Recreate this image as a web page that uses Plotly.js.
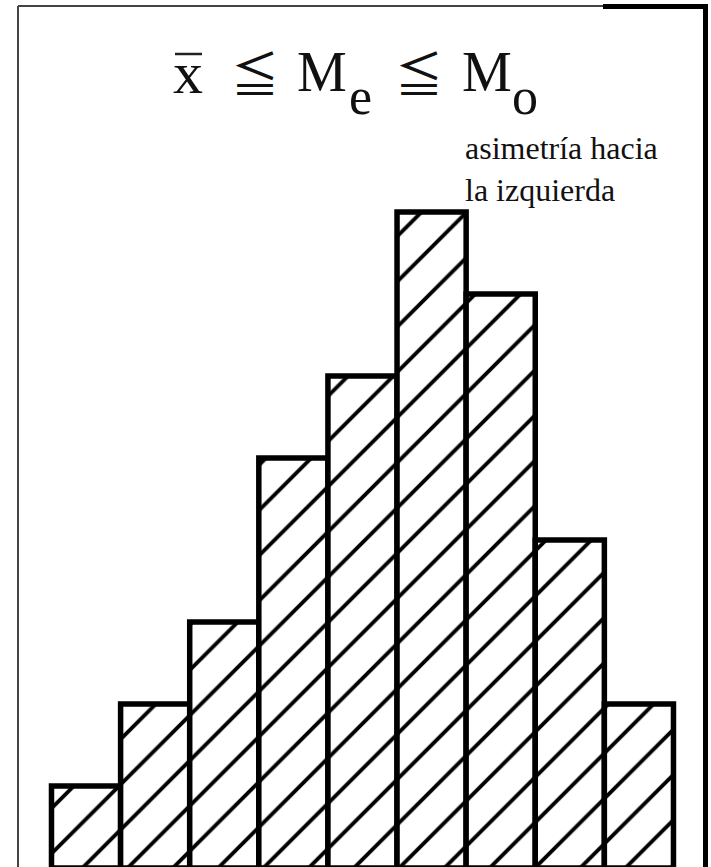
<!DOCTYPE html>
<html>
<head>
<meta charset="utf-8">
<script src="https://cdn.plot.ly/plotly-3.0.1.min.js"></script>
<style>
  html, body { margin: 0; padding: 0; background: #ffffff; }
  #chart { width: 711px; height: 867px; }
</style>
</head>
<body>
<div id="chart"></div>
<script>
// Class index (nine adjacent classes) and their frequencies
const classes = [0, 1, 2, 3, 4, 5, 6, 7, 8];
const frequencies = [1, 2, 3, 5, 6, 8, 7, 4, 2];
const noteLines = ["asimetría hacia", "la izquierda"];

const W = 711, H = 867;
const px = p => p / W;            // pixel -> paper x (plot area spans the page)
const py = p => (H - p) / H;      // pixel -> paper y

const serif = "Liberation Serif, Times New Roman, serif";
const cjk = "Noto Sans CJK JP, Noto Sans CJK SC, DejaVu Sans, sans-serif";

const trace = {
  type: "bar",
  x: classes,
  y: frequencies,
  width: 1,
  marker: {
    color: "#ffffff",
    line: { color: "#000000", width: 5.5 },
    pattern: { shape: "/", fgcolor: "#000000", bgcolor: "#ffffff", size: 32, solidity: 0.12 }
  },
  hoverinfo: "skip",
  showlegend: false
};

function glyph(text, cx, cy, size, family) {
  return {
    xref: "paper", yref: "paper", x: px(cx), y: py(cy),
    xanchor: "center", yanchor: "middle",
    text: text, showarrow: false,
    font: { family: family || serif, size: size, color: "#111111" }
  };
}

const layout = {
  width: W, height: H, autosize: false,
  margin: { l: 0, r: 0, t: 0, b: 0, pad: 0 },
  paper_bgcolor: "#ffffff", plot_bgcolor: "#ffffff",
  bargap: 0,
  xaxis: { range: [-1.245, 9.043], visible: false, fixedrange: true },
  yaxis: { range: [0.0122, 10.585], visible: false, fixedrange: true },
  annotations: [
    glyph("x", 188, 73, 60),
    glyph("≦", 255, 71, 48, cjk),
    glyph("M", 322, 72, 56),
    glyph("e", 360, 97, 52),
    glyph("≦", 419, 71, 48, cjk),
    glyph("M", 487, 72, 56),
    glyph("o", 525, 97, 52),
    {
      xref: "paper", yref: "paper", x: px(463), y: py(128),
      xanchor: "left", yanchor: "top", align: "left",
      text: noteLines.join("<br>"), showarrow: false,
      font: { family: serif, size: 32, color: "#111111" }
    }
  ],
  shapes: [
    // overline of x-bar
    { type: "line", xref: "paper", yref: "paper", x0: px(175), x1: px(202), y0: py(54), y1: py(54),
      line: { color: "#222222", width: 2.5 } },
    // thin frame: left and top
    { type: "line", xref: "paper", yref: "paper", x0: px(18), x1: px(18), y0: py(6), y1: py(868),
      line: { color: "#444444", width: 2 } },
    { type: "line", xref: "paper", yref: "paper", x0: px(18), x1: px(604), y0: py(6), y1: py(6),
      line: { color: "#444444", width: 2 } },
    // thick corner: top right and right side
    { type: "line", xref: "paper", yref: "paper", x0: px(603), x1: px(708), y0: py(6.5), y1: py(6.5),
      line: { color: "#000000", width: 5 } },
    { type: "line", xref: "paper", yref: "paper", x0: px(705.5), x1: px(705.5), y0: py(4), y1: py(868),
      line: { color: "#000000", width: 5 } }
  ]
};

Plotly.newPlot("chart", [trace], layout, { displayModeBar: false, staticPlot: true });
</script>
</body>
</html>
